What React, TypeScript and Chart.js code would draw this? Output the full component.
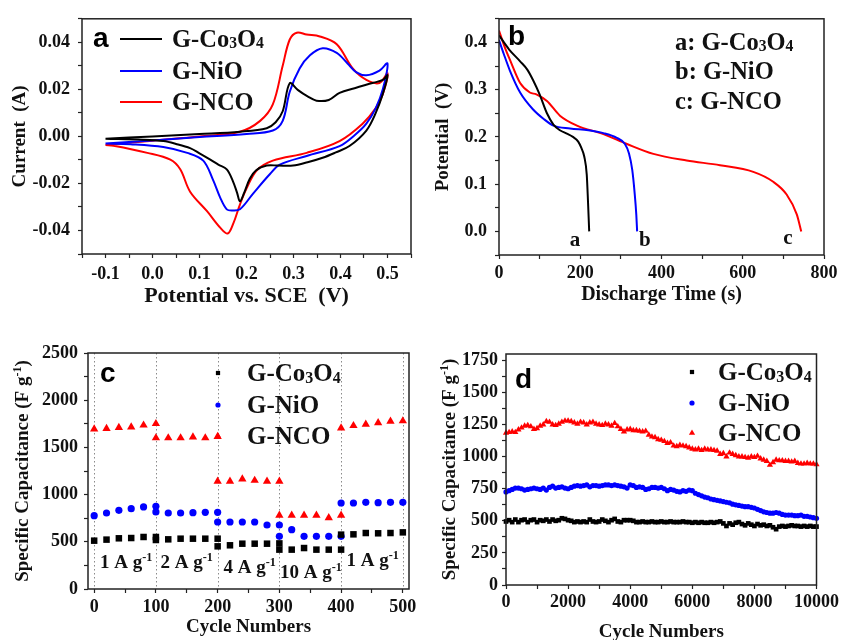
import { useEffect, useRef } from 'react';
import { Chart, registerables } from 'chart.js';

Chart.register(...registerables);

const SERIF = "'Liberation Serif', 'Times New Roman', serif";
const SANS = "'Liberation Sans', Arial, sans-serif";
const INK = '#111111';
const W = 421;
const H = 320;

const panelLetters = ['a', 'b', 'c', 'd'];
const seriesNames = ['G-Co_{3}O_{4}', 'G-NiO', 'G-NCO'];
const seriesColors = ['#000000', '#0000ff', '#ff0000'];
const seriesMarkers = ['rect', 'circle', 'triangle'];

// ---------- panel a : cyclic voltammetry ----------
const cvCoPotential = [-0.1, 0.0, 0.1, 0.186, 0.243, 0.262, 0.277, 0.292, 0.309, 0.33, 0.349, 0.375, 0.398, 0.43, 0.468, 0.49, 0.5, 0.49, 0.475, 0.455, 0.419, 0.39, 0.362, 0.33, 0.299, 0.267, 0.243, 0.22, 0.207, 0.195, 0.186, 0.18, 0.171, 0.158, 0.14, 0.123, 0.1, 0.08, 0.05, 0.023, -0.02, -0.1];
const cvCoCurrent = [-0.001, 0.0, 0.001, 0.002, 0.0035, 0.006, 0.0107, 0.0226, 0.0198, 0.017, 0.0152, 0.0155, 0.0185, 0.0205, 0.0227, 0.024, 0.026, 0.018, 0.01, 0.0025, -0.0041, -0.0068, -0.0091, -0.011, -0.0124, -0.0124, -0.0124, -0.0145, -0.018, -0.024, -0.0276, -0.024, -0.019, -0.014, -0.012, -0.0099, -0.0072, -0.005, -0.0032, -0.002, -0.0014, -0.001];
const cvNiPotential = [-0.1, 0.0, 0.1, 0.2, 0.256, 0.277, 0.292, 0.313, 0.335, 0.362, 0.392, 0.415, 0.434, 0.455, 0.483, 0.5, 0.49, 0.475, 0.455, 0.43, 0.398, 0.328, 0.271, 0.25, 0.214, 0.186, 0.17, 0.158, 0.144, 0.129, 0.108, 0.074, 0.023, -0.047, -0.1];
const cvNiCurrent = [-0.003, -0.0017, -0.0003, 0.001, 0.0025, 0.0066, 0.019, 0.0289, 0.0345, 0.0375, 0.0355, 0.031, 0.0272, 0.026, 0.028, 0.031, 0.02, 0.012, 0.0054, 0.0005, -0.0041, -0.0083, -0.012, -0.016, -0.0243, -0.031, -0.0315, -0.031, -0.026, -0.0186, -0.0103, -0.007, -0.0045, -0.0033, -0.003];
const cvNcoPotential = [-0.1, 0.0, 0.1, 0.186, 0.229, 0.256, 0.277, 0.292, 0.307, 0.328, 0.356, 0.392, 0.426, 0.455, 0.483, 0.5, 0.49, 0.475, 0.447, 0.398, 0.328, 0.256, 0.222, 0.2, 0.186, 0.172, 0.16, 0.144, 0.116, 0.08, 0.059, 0.038, -0.011, -0.083, -0.1];
const cvNcoCurrent = [-0.0037, -0.0018, 0.0, 0.002, 0.0066, 0.0136, 0.03, 0.0412, 0.0441, 0.0433, 0.0425, 0.0392, 0.0289, 0.024, 0.0227, 0.0268, 0.018, 0.012, 0.0054, -0.002, -0.007, -0.0103, -0.0144, -0.0222, -0.029, -0.037, -0.0413, -0.0388, -0.0318, -0.0235, -0.014, -0.0099, -0.007, -0.004, -0.0037];

// ---------- panel b : discharge curves ----------
const gcdCoTime = [0, 25, 52, 70, 84, 100, 118, 134, 150, 167, 182, 195, 203, 210, 216, 219, 222];
const gcdCoPotential = [0.415, 0.385, 0.36, 0.342, 0.32, 0.29, 0.25, 0.226, 0.214, 0.207, 0.2, 0.19, 0.176, 0.158, 0.12, 0.065, 0.0];
const gcdNiTime = [0, 12, 27, 52, 84, 110, 134, 175, 220, 257, 290, 310, 320, 328, 334, 338, 340];
const gcdNiPotential = [0.405, 0.375, 0.34, 0.294, 0.258, 0.238, 0.224, 0.218, 0.214, 0.208, 0.198, 0.185, 0.165, 0.13, 0.08, 0.035, 0.0];
const gcdNcoTime = [0, 12, 27, 52, 76, 92, 118, 150, 192, 257, 315, 380, 462, 544, 626, 675, 708, 733, 744];
const gcdNcoPotential = [0.425, 0.395, 0.363, 0.314, 0.294, 0.29, 0.276, 0.245, 0.224, 0.206, 0.185, 0.164, 0.15, 0.14, 0.126, 0.105, 0.078, 0.036, 0.0];
const gcdLegend = ['a: G-Co_{3}O_{4}', 'b: G-NiO', 'c: G-NCO'];
const gcdTags = ['a', 'b', 'c'];
const gcdTagTime = [187, 359, 711];
const gcdTagPotential = [-0.017, -0.017, -0.011];

// ---------- panel c : rate capability ----------
const rateCycles = [0, 20, 40, 60, 80, 100, 100, 120, 140, 160, 180, 200, 200, 220, 240, 260, 280, 300, 300, 320, 340, 360, 380, 400, 400, 420, 440, 460, 480, 500];
const rateCo = [512, 523, 537, 540, 551, 551, 519, 526, 533, 533, 533, 533, 452, 463, 480, 480, 480, 483, 417, 417, 434, 417, 417, 417, 576, 579, 593, 590, 593, 600];
const rateNi = [777, 805, 833, 851, 869, 876, 816, 805, 805, 808, 812, 812, 710, 710, 710, 710, 678, 678, 558, 628, 558, 558, 558, 558, 911, 911, 918, 914, 918, 918];
const rateNco = [1695, 1700, 1710, 1715, 1735, 1751, 1600, 1600, 1600, 1610, 1600, 1615, 1140, 1140, 1165, 1150, 1140, 1140, 780, 780, 780, 780, 755, 780, 1705, 1730, 1745, 1760, 1776, 1780];
const rateLabels = ['1 A g^{-1}', '2 A g^{-1}', '4 A g^{-1}', '10 A g^{-1}', '1 A g^{-1}'];
const rateLabelCycle = [52, 150, 252, 351, 451];
const rateLabelCap = [286, 286, 233, 180, 307];
const rateDividers = [0, 100, 200, 300, 400, 500];

// ---------- panel d : cycling stability ----------
const lifeCycles = [0, 100, 200, 300, 400, 500, 600, 700, 800, 900, 1000, 1100, 1200, 1300, 1400, 1500, 1600, 1700, 1800, 1900, 2000, 2100, 2200, 2300, 2400, 2500, 2600, 2700, 2800, 2900, 3000, 3100, 3200, 3300, 3400, 3500, 3600, 3700, 3800, 3900, 4000, 4100, 4200, 4300, 4400, 4500, 4600, 4700, 4800, 4900, 5000, 5100, 5200, 5300, 5400, 5500, 5600, 5700, 5800, 5900, 6000, 6100, 6200, 6300, 6400, 6500, 6600, 6700, 6800, 6900, 7000, 7100, 7200, 7300, 7400, 7500, 7600, 7700, 7800, 7900, 8000, 8100, 8200, 8300, 8400, 8500, 8600, 8700, 8800, 8900, 9000, 9100, 9200, 9300, 9400, 9500, 9600, 9700, 9800, 9900, 10000];
const lifeNco = [1185, 1190, 1195, 1190, 1210, 1225, 1240, 1245, 1235, 1215, 1220, 1240, 1250, 1275, 1270, 1250, 1245, 1255, 1270, 1280, 1280, 1275, 1265, 1255, 1270, 1265, 1250, 1265, 1270, 1255, 1250, 1245, 1255, 1250, 1240, 1260, 1235, 1215, 1195, 1210, 1215, 1205, 1205, 1200, 1195, 1200, 1170, 1155, 1150, 1135, 1130, 1120, 1105, 1110, 1085, 1080, 1090, 1085, 1080, 1070, 1060, 1055, 1060, 1050, 1060, 1055, 1055, 1050, 1045, 1020, 1025, 1000, 1030, 1020, 1010, 1000, 1000, 995, 990, 1000, 995, 1005, 985, 975, 965, 935, 955, 975, 970, 970, 965, 965, 960, 965, 950, 945, 945, 950, 945, 945, 940];
const lifeNi = [725, 735, 745, 755, 755, 750, 740, 745, 750, 755, 750, 745, 755, 740, 760, 770, 755, 760, 765, 755, 750, 760, 770, 775, 770, 775, 780, 765, 775, 775, 770, 775, 780, 780, 775, 780, 775, 770, 765, 755, 780, 775, 760, 765, 760, 745, 750, 760, 760, 755, 760, 750, 735, 745, 740, 730, 725, 735, 730, 740, 735, 715, 705, 695, 685, 680, 670, 665, 660, 655, 650, 645, 640, 630, 625, 620, 615, 610, 610, 605, 600, 590, 580, 570, 565, 560, 560, 565, 560, 550, 545, 545, 545, 540, 540, 545, 535, 535, 530, 525, 520];
const lifeCo = [495, 505, 490, 510, 490, 505, 510, 490, 505, 510, 490, 505, 500, 510, 495, 510, 500, 505, 520, 515, 505, 500, 490, 495, 490, 495, 490, 510, 495, 490, 495, 510, 500, 490, 505, 515, 495, 490, 505, 505, 505, 500, 490, 490, 495, 490, 490, 495, 490, 490, 495, 490, 490, 495, 490, 490, 490, 495, 490, 490, 485, 490, 485, 490, 485, 485, 490, 485, 490, 495, 480, 460, 480, 470, 485, 490, 475, 465, 480, 470, 460, 475, 465, 470, 460, 465, 450, 435, 455, 460, 455, 460, 465, 460, 460, 455, 460, 455, 460, 455, 455];

// ---------- helpers ----------
type Seg = { text: string; kind: 'n' | 'sub' | 'sup' };
function parseRich(s: string): Seg[] {
  const out: Seg[] = [];
  const re = /([_^])\{([^}]*)\}/g;
  let last = 0;
  let m: RegExpExecArray | null;
  while ((m = re.exec(s))) {
    if (m.index > last) out.push({ text: s.slice(last, m.index), kind: 'n' });
    out.push({ text: m[2], kind: m[1] === '_' ? 'sub' : 'sup' });
    last = re.lastIndex;
  }
  if (last < s.length) out.push({ text: s.slice(last), kind: 'n' });
  return out;
}

function drawRich(ctx: CanvasRenderingContext2D, s: string, x: number, y: number, size: number, align: 'left' | 'center' | 'right' = 'left', rotation = 0, color = INK) {
  const segs = parseRich(s);
  const small = size * 0.64;
  ctx.save();
  ctx.translate(x, y);
  if (rotation) ctx.rotate(rotation);
  ctx.fillStyle = color;
  ctx.textBaseline = 'alphabetic';
  ctx.textAlign = 'left';
  const fonts = segs.map((g) => `bold ${g.kind === 'n' ? size : small}px ${SERIF}`);
  const widths = segs.map((g, i) => {
    ctx.font = fonts[i];
    return ctx.measureText(g.text).width;
  });
  const total = widths.reduce((a, b) => a + b, 0);
  let cx = align === 'center' ? -total / 2 : align === 'right' ? -total : 0;
  const base = size * 0.33;
  segs.forEach((g, i) => {
    ctx.font = fonts[i];
    const dy = g.kind === 'sub' ? size * 0.05 : g.kind === 'sup' ? -size * 0.36 : 0;
    ctx.fillText(g.text, cx, base + dy);
    cx += widths[i];
  });
  ctx.restore();
}

function drawLetter(ctx: CanvasRenderingContext2D, t: string, x: number, baseline: number) {
  ctx.save();
  ctx.fillStyle = '#000';
  ctx.font = `bold 28px ${SANS}`;
  ctx.textBaseline = 'alphabetic';
  ctx.textAlign = 'left';
  ctx.fillText(t, x, baseline);
  ctx.restore();
}

function drawMarker(ctx: CanvasRenderingContext2D, style: string, x: number, y: number, r: number, color: string) {
  ctx.save();
  ctx.fillStyle = color;
  ctx.beginPath();
  if (style === 'rect') {
    const s = r * Math.SQRT1_2;
    ctx.rect(x - s, y - s, 2 * s, 2 * s);
  } else if (style === 'circle') {
    ctx.arc(x, y, r, 0, Math.PI * 2);
  } else {
    ctx.moveTo(x, y - r);
    ctx.lineTo(x + r * 0.866, y + r * 0.5);
    ctx.lineTo(x - r * 0.866, y + r * 0.5);
    ctx.closePath();
  }
  ctx.fill();
  ctx.restore();
}

function axis(o: { horizontal: boolean; min: number; max: number; step: number; major: number; digits: number; size: number; pad: number; title?: string; titleSize?: number; titleOffset?: number }) {
  return {
    type: 'linear',
    position: o.horizontal ? 'bottom' : 'left',
    min: o.min,
    max: o.max,
    afterFit: (s: any) => {
      if (o.horizontal) s.height = o.size;
      else s.width = o.size;
    },
    border: { display: false },
    grid: { display: true, drawOnChartArea: false, drawTicks: true, tickLength: 4, tickColor: '#222', tickWidth: 1.2, lineWidth: 1 },
    ticks: {
      stepSize: o.step,
      autoSkip: false,
      includeBounds: false,
      maxRotation: 0,
      minRotation: 0,
      padding: o.pad,
      color: INK,
      font: { family: SERIF, size: 18, weight: 'bold' },
      callback: (value: any) => {
        const v = Math.abs(Number(value)) < 1e-9 ? 0 : Number(value);
        const r = v / o.major;
        return Math.abs(r - Math.round(r)) < 1e-6 ? v.toFixed(o.digits) : '';
      },
    },
    title: o.title
      ? {
          display: true,
          text: o.title,
          color: INK,
          font: { family: SERIF, size: o.titleSize, weight: 'bold' },
          padding: o.horizontal ? { top: 0, bottom: o.titleOffset } : { top: o.titleOffset, bottom: 0 },
        }
      : { display: false },
  };
}

function baseOptions(padding: any, x: any, y: any) {
  return {
    animation: false,
    responsive: false,
    events: [],
    layout: { padding },
    plugins: { legend: { display: false }, tooltip: { enabled: false }, title: { display: false } },
    scales: { x, y },
  };
}

function decor(after: (chart: any) => void, before?: (chart: any) => void) {
  return {
    id: 'decor',
    beforeDatasetsDraw(chart: any) {
      if (before) before(chart);
    },
    afterDraw(chart: any) {
      const { ctx, chartArea: a } = chart;
      ctx.save();
      ctx.strokeStyle = '#222';
      ctx.lineWidth = 1.5;
      ctx.strokeRect(a.left, a.top, a.right - a.left, a.bottom - a.top);
      ctx.restore();
      after(chart);
    },
  };
}

const pts = (xs: number[], ys: number[]) => xs.map((x, i) => ({ x, y: ys[i] }));

// ---------- chart configs ----------
function makeA() {
  const pairs = [
    [cvCoPotential, cvCoCurrent],
    [cvNiPotential, cvNiCurrent],
    [cvNcoPotential, cvNcoCurrent],
  ];
  const datasets = pairs.map(([xs, ys], i) => ({
    data: pts(xs, ys),
    showLine: true,
    borderColor: seriesColors[i],
    borderWidth: 2,
    pointRadius: 0,
    tension: 0.35,
    fill: false,
  }));
  return {
    type: 'scatter',
    data: { datasets },
    options: baseOptions(
      { left: 0, top: 12, right: 10, bottom: 0 },
      axis({ horizontal: true, min: -0.15, max: 0.55, step: 0.05, major: 0.1, digits: 1, size: 66, pad: 6, title: 'Potential vs. SCE  (V)', titleSize: 22, titleOffset: 10 }),
      axis({ horizontal: false, min: -0.05, max: 0.05, step: 0.01, major: 0.02, digits: 2, size: 82, pad: 8, title: 'Current  (A)', titleSize: 19, titleOffset: 8.6 })
    ),
    plugins: [
      decor((chart) => {
        const ctx = chart.ctx;
        drawLetter(ctx, panelLetters[0], 93, 47);
        const rows = [39, 71, 102];
        seriesNames.forEach((name, i) => {
          ctx.save();
          ctx.strokeStyle = seriesColors[i];
          ctx.lineWidth = 2;
          ctx.beginPath();
          ctx.moveTo(120, rows[i]);
          ctx.lineTo(162, rows[i]);
          ctx.stroke();
          ctx.restore();
          drawRich(ctx, name, 172, rows[i], 24.5);
        });
      }),
    ],
  };
}

function makeB() {
  const pairs = [
    [gcdCoTime, gcdCoPotential],
    [gcdNiTime, gcdNiPotential],
    [gcdNcoTime, gcdNcoPotential],
  ];
  const datasets = pairs.map(([xs, ys], i) => ({
    data: pts(xs, ys),
    showLine: true,
    borderColor: seriesColors[i],
    borderWidth: 2,
    pointRadius: 0,
    cubicInterpolationMode: 'monotone',
    fill: false,
  }));
  return {
    type: 'scatter',
    data: { datasets },
    options: baseOptions(
      { left: 0, top: 15, right: 18, bottom: 0 },
      axis({ horizontal: true, min: 0, max: 800, step: 100, major: 200, digits: 0, size: 65, pad: 4, title: 'Discharge Time (s)', titleSize: 20, titleOffset: 13 }),
      axis({ horizontal: false, min: -0.05, max: 0.45, step: 0.05, major: 0.1, digits: 1, size: 78, pad: 8, title: 'Potential  (V)', titleSize: 19, titleOffset: 10.6 })
    ),
    plugins: [
      decor((chart) => {
        const ctx = chart.ctx;
        drawLetter(ctx, panelLetters[1], 87, 45);
        const rows = [42, 71, 101];
        gcdLegend.forEach((t, i) => drawRich(ctx, t, 254, rows[i], 24.5));
        const { x, y } = chart.scales;
        gcdTags.forEach((t, i) => drawRich(ctx, t, x.getPixelForValue(gcdTagTime[i]), y.getPixelForValue(gcdTagPotential[i]), 21, 'center'));
      }),
    ],
  };
}

function makeC() {
  const series = [rateCo, rateNi, rateNco];
  const radii = [4.6, 3.6, 4.8];
  const datasets = series.map((ys, i) => ({
    data: pts(rateCycles, ys),
    pointStyle: seriesMarkers[i],
    pointRadius: radii[i],
    pointBackgroundColor: seriesColors[i],
    pointBorderWidth: 0,
    showLine: false,
    clip: false,
  }));
  return {
    type: 'scatter',
    data: { datasets },
    options: baseOptions(
      { left: 0, top: 33, right: 12, bottom: 0 },
      axis({ horizontal: true, min: -10, max: 510, step: 50, major: 100, digits: 0, size: 51, pad: 4, title: 'Cycle Numbers', titleSize: 19, titleOffset: 1.6 }),
      axis({ horizontal: false, min: 0, max: 2500, step: 250, major: 500, digits: 0, size: 88, pad: 6 })
    ),
    plugins: [
      decor(
        (chart) => {
          const ctx = chart.ctx;
          const a = chart.chartArea;
          drawLetter(ctx, panelLetters[2], 100, 62);
          const rows = [53, 85, 116];
          const lr = [3, 2.6, 3.6];
          seriesNames.forEach((name, i) => {
            drawMarker(ctx, seriesMarkers[i], 218, rows[i], lr[i], seriesColors[i]);
            drawRich(ctx, name, 247, rows[i], 25);
          });
          const { x, y } = chart.scales;
          rateLabels.forEach((t, i) => drawRich(ctx, t, x.getPixelForValue(rateLabelCycle[i]), y.getPixelForValue(rateLabelCap[i]), 19, 'center'));
          drawRich(ctx, 'Specific Capacitance (F g^{-1})', 22, (a.top + a.bottom) / 2, 19, 'center', -Math.PI / 2);
        },
        (chart) => {
          const { ctx, chartArea: a, scales } = chart;
          ctx.save();
          ctx.strokeStyle = '#8a8a8a';
          ctx.lineWidth = 1;
          ctx.setLineDash([1.5, 2.5]);
          rateDividers.forEach((v) => {
            const px = Math.round(scales.x.getPixelForValue(v)) + 0.5;
            ctx.beginPath();
            ctx.moveTo(px, a.top);
            ctx.lineTo(px, a.bottom);
            ctx.stroke();
          });
          ctx.restore();
        }
      ),
    ],
  };
}

function makeD() {
  const series = [lifeCo, lifeNi, lifeNco];
  const radii = [3.3, 2.6, 3.6];
  const datasets = series.map((ys, i) => ({
    data: pts(lifeCycles, ys),
    pointStyle: seriesMarkers[i],
    pointRadius: radii[i],
    pointBackgroundColor: seriesColors[i],
    pointBorderWidth: 0,
    showLine: false,
    clip: false,
  }));
  return {
    type: 'scatter',
    data: { datasets },
    options: baseOptions(
      { left: 0, top: 34, right: 25, bottom: 0 },
      axis({ horizontal: true, min: 0, max: 10000, step: 1000, major: 2000, digits: 0, size: 55, pad: 3, title: 'Cycle Numbers', titleSize: 19, titleOffset: -3.4 }),
      axis({ horizontal: false, min: 0, max: 1800, step: 125, major: 250, digits: 0, size: 85, pad: 4 })
    ),
    plugins: [
      decor((chart) => {
        const ctx = chart.ctx;
        const a = chart.chartArea;
        drawLetter(ctx, panelLetters[3], 94, 68);
        const rows = [52, 83, 113];
        const lr = [3, 2.6, 3.6];
        seriesNames.forEach((name, i) => {
          drawMarker(ctx, seriesMarkers[i], 271, rows[i], lr[i], seriesColors[i]);
          drawRich(ctx, name, 297, rows[i], 25);
        });
        drawRich(ctx, 'Specific Capacitance (F g^{-1})', 28, (a.top + a.bottom) / 2, 19, 'center', -Math.PI / 2);
      }),
    ],
  };
}

function ChartPanel({ make, left, top }: { make: () => any; left: number; top: number }) {
  const ref = useRef<HTMLCanvasElement | null>(null);
  useEffect(() => {
    if (!ref.current) return;
    const chart = new Chart(ref.current, make());
    return () => chart.destroy();
  }, [make]);
  return <canvas ref={ref} width={W} height={H} style={{ position: 'absolute', left, top, width: W, height: H, display: 'block' }} />;
}

export default function App() {
  return (
    <div style={{ position: 'absolute', left: 0, top: 0, width: 842, height: 640, background: '#ffffff', overflow: 'hidden' }}>
      <ChartPanel make={makeA} left={0} top={0} />
      <ChartPanel make={makeB} left={421} top={0} />
      <ChartPanel make={makeC} left={0} top={320} />
      <ChartPanel make={makeD} left={421} top={320} />
    </div>
  );
}
